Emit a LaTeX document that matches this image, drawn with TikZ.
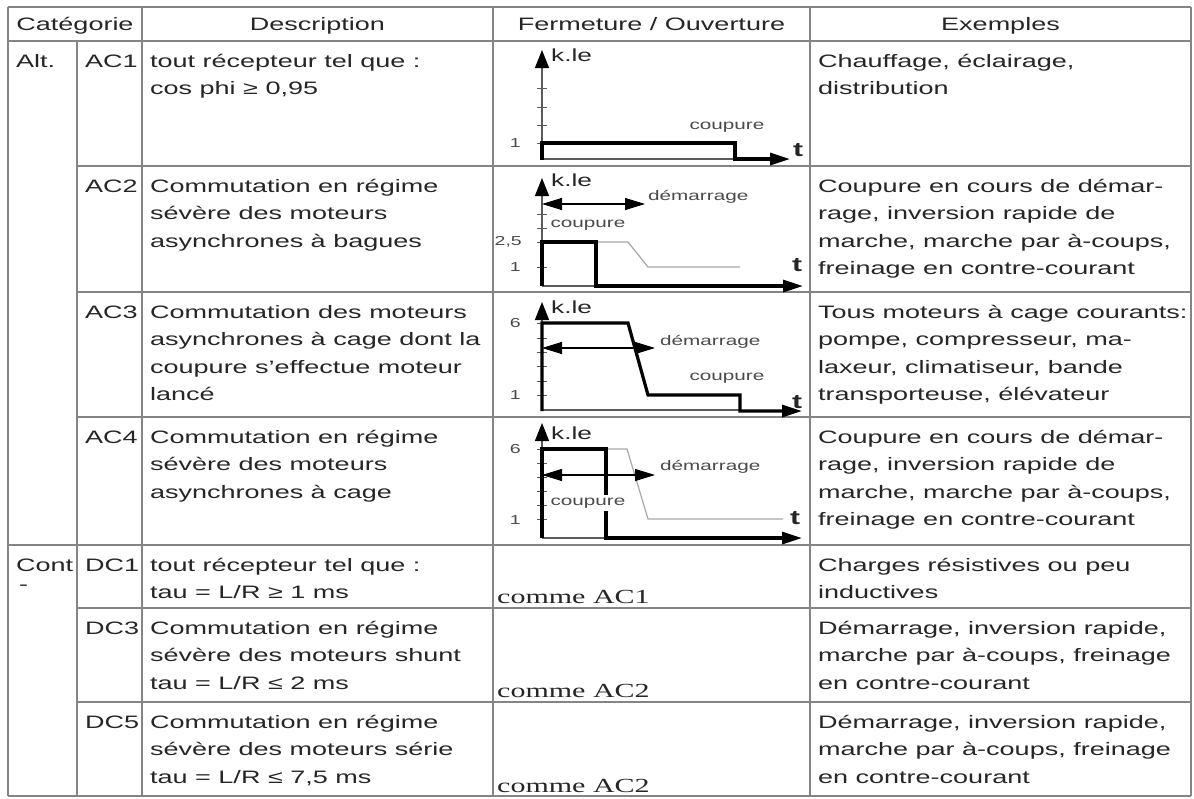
\documentclass[tikz,border=0pt]{standalone}
\usepackage{fontspec}
\setmainfont{Liberation Sans}[FakeStretch=1.5]
\newfontfamily\serifface{Liberation Serif}[FakeStretch=1.5]
\usetikzlibrary{arrows.meta}

\definecolor{gridline}{HTML}{858585}
\definecolor{ink}{HTML}{262626}
\definecolor{axisgray}{HTML}{5A5A5A}
\definecolor{lblgray}{HTML}{4A4A4A}
\definecolor{startgray}{HTML}{A8A8A8}

% multi-line cell text; baseline = first line
\newcommand{\cellines}[1]{\begin{tabular}[t]{@{}l@{}}#1\end{tabular}}

\tikzset{
  axtip/.tip={Triangle[length=18pt,width=14pt,color=black]},
  dtip/.tip={Triangle[length=20pt,width=12pt,color=black]},
  grid/.style={line width=1.8pt, gridline},
  head/.style={font=\fontsize{18}{22}\selectfont, text=ink, inner sep=0pt, anchor=base},
  body/.style={font=\fontsize{18}{27.5}\selectfont, text=ink, inner sep=0pt, anchor=base west},
  same/.style={font=\serifface\fontsize{20}{24}\selectfont, text=ink, inner sep=0pt, anchor=base west},
  klbl/.style={font=\fontsize{17.5}{20}\selectfont, text=ink, inner sep=0pt, anchor=west},
  tlbl/.style={font=\bfseries\fontsize{20}{22}\selectfont, text=ink, inner sep=0pt},
  num/.style={font=\fontsize{13}{15}\selectfont, text=lblgray, inner sep=0pt, anchor=east},
  small/.style={font=\fontsize{13.8}{16}\selectfont, text=lblgray, inner sep=0pt},
  axis/.style={line width=1.2pt, axisgray},
  trace/.style={line width=3.2pt, black},
  startup/.style={line width=1.2pt, startgray},
  span/.style={line width=1.1pt, black, dtip-dtip},
  tick/.style={line width=0.9pt, axisgray},
}

\begin{document}
\begin{tikzpicture}[x=1pt,y=-1pt]
\useasboundingbox (0,0) rectangle (1194,798);
\fill[white] (0,0) rectangle (1194,798);

% ---------- table rules ----------
\draw[grid] (8,7) -- (1191,7);
\draw[grid] (8,41) -- (1191,41);
\draw[grid] (77,166) -- (1191,166);
\draw[grid] (77,292) -- (1191,292);
\draw[grid] (77,417) -- (1191,417);
\draw[grid] (8,545) -- (1191,545);
\draw[grid] (77,608) -- (1191,608);
\draw[grid] (77,702) -- (1191,702);
\draw[grid] (8,796) -- (1191,796);
\draw[grid] (8,7) -- (8,796);
\draw[grid] (77,41) -- (77,796);
\draw[grid] (142,7) -- (142,796);
\draw[grid] (493,7) -- (493,796);
\draw[grid] (810,7) -- (810,796);
\draw[grid] (1191,7) -- (1191,796);

% ---------- header ----------
\node[head] (hcat)  at (75,30.5)    {Catégorie};
\node[head] (hdesc) at (317.5,30.5) {Description};
\node[head] (hfo)   at (651.5,30.5) {Fermeture / Ouverture};
\node[head] (hex)   at (1000.5,30.5){Exemples};

% ---------- category column ----------
\node[body] (calt)  at (16,67)  {Alt.};
\node[body] (ccont) at (16,571) {Cont};
\node[body] (cdash) at (19,590) {-};

% ---------- codes ----------
\node[body] (kac1) at (85,67)  {AC1};
\node[body] (kac2) at (85,192) {AC2};
\node[body] (kac3) at (85,318) {AC3};
\node[body] (kac4) at (85,443) {AC4};
\node[body] (kdc1) at (85,571) {DC1};
\node[body] (kdc3) at (85,634) {DC3};
\node[body] (kdc5) at (85,728) {DC5};

% ---------- descriptions ----------
\node[body] (dac1) at (150,67)  {\cellines{tout récepteur tel que :\\cos phi ≥ 0,95}};
\node[body] (dac2) at (150,192) {\cellines{Commutation en régime\\sévère des moteurs\\asynchrones à bagues}};
\node[body] (dac3) at (150,318) {\cellines{Commutation des moteurs\\asynchrones à cage dont la\\coupure s'effectue moteur\\lancé}};
\node[body] (dac4) at (150,443) {\cellines{Commutation en régime\\sévère des moteurs\\asynchrones à cage}};
\node[body] (ddc1) at (150,571) {\cellines{tout récepteur tel que :\\tau = L/R ≥ 1 ms}};
\node[body] (ddc3) at (150,634) {\cellines{Commutation en régime\\sévère des moteurs shunt\\tau = L/R ≤ 2 ms}};
\node[body] (ddc5) at (150,728) {\cellines{Commutation en régime\\sévère des moteurs série\\tau = L/R ≤ 7,5 ms}};

% ---------- examples ----------
\node[body] (eac1) at (818,67)  {\cellines{Chauffage, éclairage,\\distribution}};
\node[body] (eac2) at (818,192) {\cellines{Coupure en cours de démar-\\rage, inversion rapide de\\marche, marche par à-coups,\\freinage en contre-courant}};
\node[body] (eac3) at (818,318) {\cellines{Tous moteurs à cage courants:\\pompe, compresseur, ma-\\laxeur, climatiseur, bande\\transporteuse, élévateur}};
\node[body] (eac4) at (818,443) {\cellines{Coupure en cours de démar-\\rage, inversion rapide de\\marche, marche par à-coups,\\freinage en contre-courant}};
\node[body] (edc1) at (818,571) {\cellines{Charges résistives ou peu\\inductives}};
\node[body] (edc3) at (818,634) {\cellines{Démarrage, inversion rapide,\\marche par à-coups, freinage\\en contre-courant}};
\node[body] (edc5) at (818,728) {\cellines{Démarrage, inversion rapide,\\marche par à-coups, freinage\\en contre-courant}};

% ---------- DC rows refer to AC charts ----------
\node[same] (sdc1) at (497,603) {comme AC1};
\node[same] (sdc3) at (497,697) {comme AC2};
\node[same] (sdc5) at (497,792) {comme AC2};

% ---------- AC1 chart ----------
\draw[axis,-axtip] (542,160) -- (542,50);
\foreach \yy in {88,107,125,143} \draw[tick] (537,\yy) -- (547,\yy);
\draw[axis] (542,159) -- (735,159);
\draw[trace,-dtip] (542,160) -- (542,143) -- (735,143) -- (735,159) -- (790,159);
\node[klbl] (k1) at (551,55) {k.le};
\node[num]  (n1a) at (521,143) {1};
\node[small] (cp1) at (727,127) {coupure};
\node[tlbl] (t1) at (798,150) {t};

% ---------- AC2 chart ----------
\draw[axis,-axtip] (542,286) -- (542,178);
\foreach \yy in {214,228,242,267} \draw[tick] (537,\yy) -- (547,\yy);
\draw[axis] (542,286) -- (596,286);
\draw[startup] (596,242) -- (628,242) -- (648,267) -- (740,267);
\draw[trace,-dtip] (542,286) -- (542,242) -- (596,242) -- (596,286) -- (803,286);
\draw[span] (542,204) -- (645,204);
\node[klbl] (k2) at (551,180) {k.le};
\node[num]  (n2a) at (522,242) {2,5};
\node[num]  (n2b) at (521,267) {1};
\node[small,anchor=west] (dm2) at (648,197) {démarrage};
\node[small] (cp2) at (588,225) {coupure};
\node[tlbl] (t2) at (797,265) {t};

% ---------- AC3 chart ----------
\draw[axis,-axtip] (542,411) -- (542,302);
\foreach \yy in {323,338,352,366,381,395} \draw[tick] (537,\yy) -- (547,\yy);
\draw[axis] (542,410) -- (740,410);
\draw[trace,-dtip] (542,411) -- (542,323) -- (628,323) -- (648,395) -- (740,395) -- (740,411) -- (802,411);
\draw[span] (542,348) -- (655,348);
\node[klbl] (k3) at (551,307) {k.le};
\node[num]  (n3a) at (521,323) {6};
\node[num]  (n3b) at (521,395) {1};
\node[small,anchor=west] (dm3) at (660,342) {démarrage};
\node[small] (cp3) at (727,378) {coupure};
\node[tlbl] (t3) at (797,402) {t};

% ---------- AC4 chart ----------
\draw[axis,-axtip] (542,538) -- (542,423);
\foreach \yy in {449,463,477,491,505,519} \draw[tick] (537,\yy) -- (547,\yy);
\draw[axis] (542,538) -- (606,538);
\draw[startup] (606,449) -- (627,449) -- (648,519) -- (783,519);
\draw[trace,-dtip] (542,538) -- (542,449) -- (606,449) -- (606,538) -- (802,538);
\draw[span] (542,475) -- (655,475);
\node[klbl] (k4) at (551,433) {k.le};
\node[num]  (n4a) at (521,449) {6};
\node[num]  (n4b) at (521,520) {1};
\node[small,anchor=west] (dm4) at (660,467) {démarrage};
\node[small,fill=white,inner sep=3pt] (cp4) at (588,503) {coupure};
\node[tlbl] (t4) at (795,518) {t};
\end{tikzpicture}
\end{document}
